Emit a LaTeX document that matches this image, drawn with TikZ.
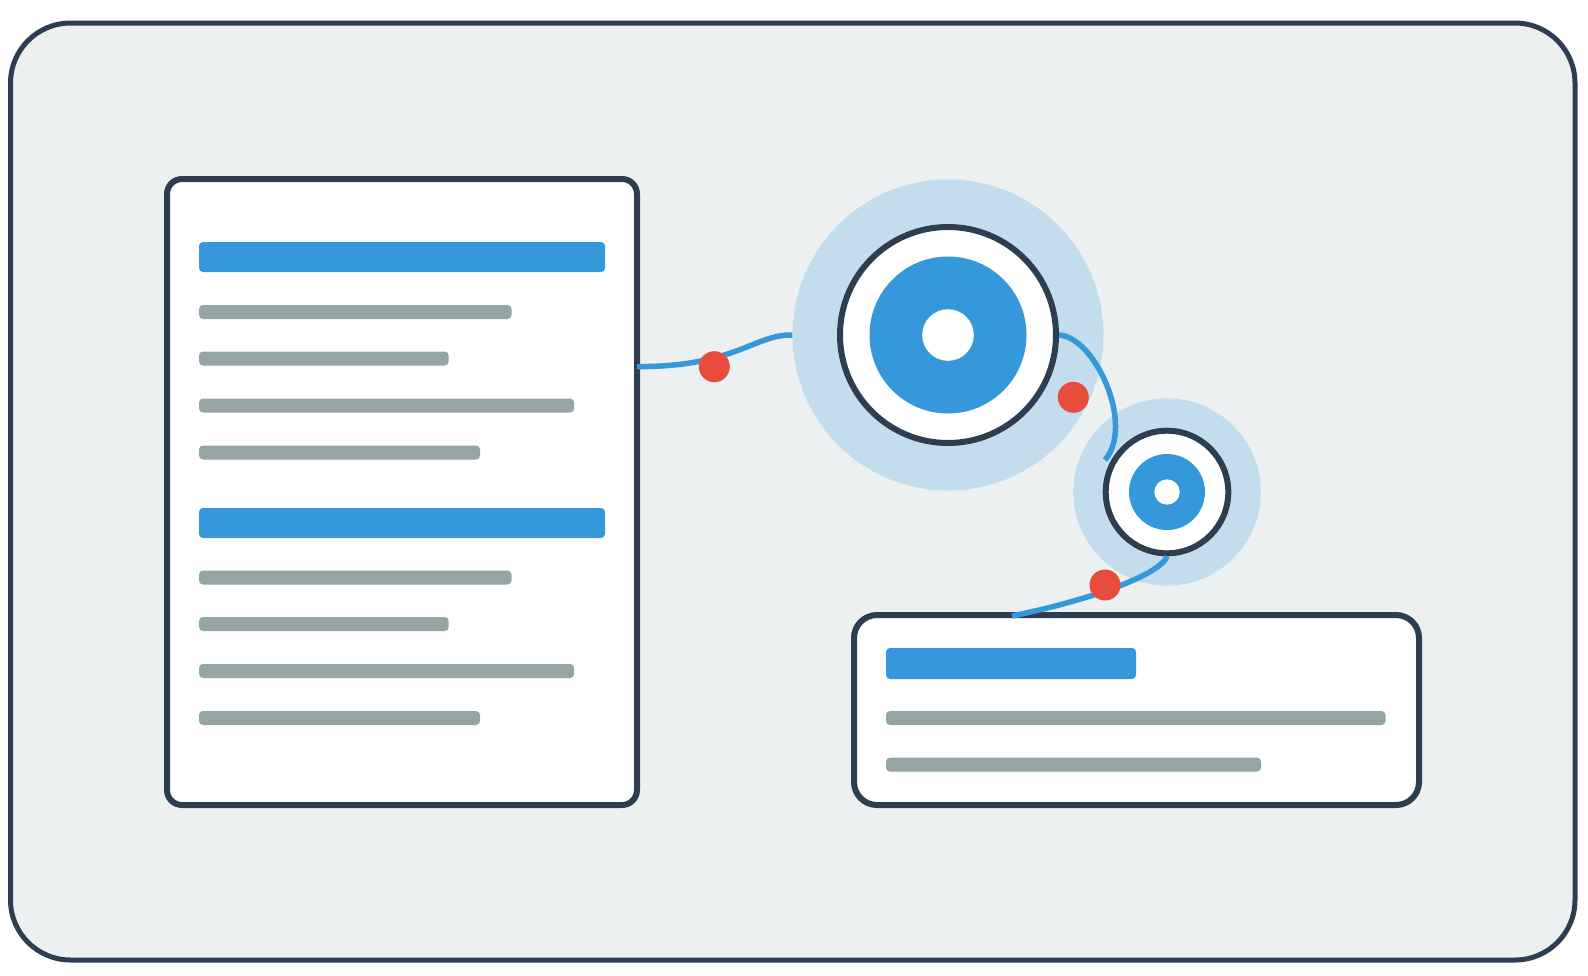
\documentclass[tikz,border=0pt]{standalone}
\definecolor{bg}{HTML}{ECF0F1}
\definecolor{dark}{HTML}{2C3E50}
\definecolor{accent}{HTML}{3498DB}
\definecolor{bargray}{HTML}{95A5A6}
\definecolor{dotred}{HTML}{E74C3C}
\colorlet{halo}{accent!22!bg}
\begin{document}
\begin{tikzpicture}[x=1pt,y=-1pt,
  frame/.style={draw=dark, fill=bg, line width=5pt, rounded corners=60pt},
  panel/.style={draw=dark, fill=white, line width=6pt, inner sep=0pt},
  bluebar/.style={fill=accent, rounded corners=4pt},
  graybar/.style={fill=bargray, rounded corners=4pt},
  halonode/.style={circle, fill=halo, inner sep=0pt},
  ring/.style={circle, fill=white, draw=dark, line width=6pt, inner sep=0pt},
  core/.style={circle, fill=accent, inner sep=0pt},
  hole/.style={circle, fill=white, inner sep=0pt},
  link/.style={draw=accent, line width=5.5pt},
  reddot/.style={circle, fill=dotred, inner sep=0pt, minimum size=31pt}]
\useasboundingbox (0,0) rectangle (1588,975);
\draw[frame] (10.5,23) rectangle (1575,960);

% left document panel
\node[panel, minimum width=470pt, minimum height=626pt, rounded corners=15pt] (doc) at (402,492) {};
\fill[bluebar] (199,242) rectangle (605,272);
\fill[graybar] (199,305) rectangle (511.5,319);
\fill[graybar] (199,351.5) rectangle (448.7,365.5);
\fill[graybar] (199,398.5) rectangle (574.2,412.5);
\fill[graybar] (199,445.5) rectangle (480,459.5);
\fill[bluebar] (199,508) rectangle (605,538);
\fill[graybar] (199,570.5) rectangle (511.5,584.5);
\fill[graybar] (199,617) rectangle (448.7,631);
\fill[graybar] (199,664) rectangle (574.2,678);
\fill[graybar] (199,711) rectangle (480,725);

% bottom right panel
\node[panel, minimum width=565pt, minimum height=190pt, rounded corners=23pt] (card) at (1136.5,710) {};
\fill[bluebar] (886,648) rectangle (1136,679);
\fill[graybar] (886,711) rectangle (1385.5,725);
\fill[graybar] (886,757.6) rectangle (1261,771.6);

% circles
\node[halonode, minimum size=311pt] (bighalo) at (948,335) {};
\node[halonode, minimum size=187.4pt] (smallhalo) at (1167,492) {};
\node[ring, minimum size=216pt] (bigring) at (948,335) {};
\node[core, minimum size=157pt] (bigcore) at (948,335) {};
\node[hole, minimum size=51.6pt] (bighole) at (948,335) {};
\node[ring, minimum size=122.6pt] (smallring) at (1167,492) {};
\node[core, minimum size=76pt] (smallcore) at (1167,492) {};
\node[hole, minimum size=25.4pt] (smallhole) at (1167,492) {};

% connector end points
\coordinate (docout) at (637,366.6);
\coordinate (smallin) at (1105,460);
\coordinate (cardin) at (1012,616);

\draw[link] (docout) .. controls (735,367) and (755,334) .. (bighalo.west);
\draw[link] (bigring.east) .. controls (1095,337) and (1135,425) .. (smallin);
\draw[link] (smallring.south) .. controls (1160,575) and (1090,600) .. (cardin);

\node[reddot] (dot1) at (714.3,366.7) {};
\node[reddot] (dot2) at (1073.3,397.3) {};
\node[reddot] (dot3) at (1105,585) {};
\end{tikzpicture}
\end{document}
